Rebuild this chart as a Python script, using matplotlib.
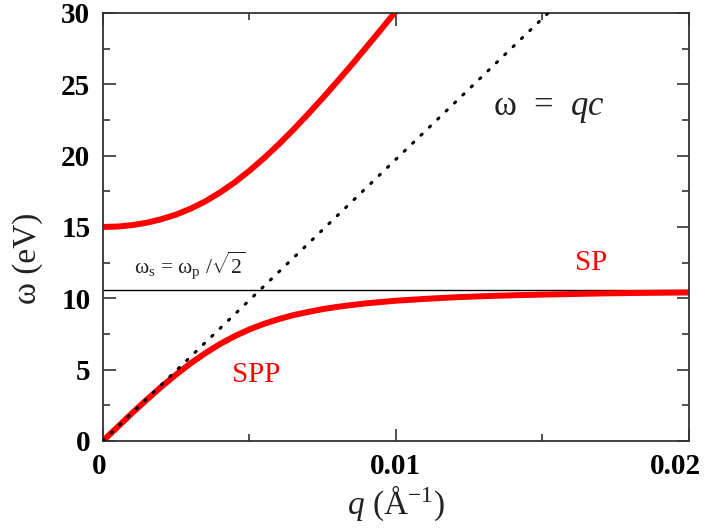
import matplotlib
matplotlib.use('Agg')
import matplotlib.pyplot as plt
import matplotlib.transforms as mtransforms
from matplotlib.ticker import MultipleLocator

plt.rcParams['font.family'] = ['Liberation Serif', 'DejaVu Serif']
plt.rcParams['mathtext.fontset'] = 'custom'
plt.rcParams['mathtext.rm'] = 'Liberation Serif'
plt.rcParams['mathtext.it'] = 'Liberation Serif:italic'

# SPP lower branch
q_lower = [0, 0.0005, 0.001, 0.0015, 0.002, 0.0025, 0.003, 0.0035, 0.004, 0.0045,
           0.005, 0.0055, 0.006, 0.0065, 0.007, 0.0075, 0.008, 0.0085, 0.009, 0.0095,
           0.01, 0.011, 0.012, 0.013, 0.014, 0.015, 0.016, 0.017, 0.018, 0.019, 0.02]
w_lower = [0, 0.98, 1.96, 2.90, 3.81, 4.66, 5.45, 6.16, 6.80, 7.35,
           7.82, 8.21, 8.54, 8.82, 9.04, 9.24, 9.40, 9.53, 9.65, 9.74,
           9.83, 9.96, 10.07, 10.15, 10.21, 10.26, 10.30, 10.34, 10.37, 10.39, 10.41]

# upper branch
q_upper = [0, 0.0005, 0.001, 0.0015, 0.002, 0.0025, 0.003, 0.0035, 0.004, 0.0045,
           0.005, 0.0055, 0.006, 0.0065, 0.007, 0.0075, 0.008, 0.0085, 0.009, 0.0095, 0.01]
w_upper = [15.0, 15.03, 15.13, 15.30, 15.55, 15.87, 16.29, 16.80, 17.42, 18.13,
           18.94, 19.83, 20.79, 21.82, 22.91, 24.03, 25.20, 26.39, 27.62, 28.86, 30.12]

# light line w = qc
q_light = [0, 0.0153]
w_light = [0, 30.2]

w_s = 10.61  # surface plasmon level

fig = plt.figure(figsize=(7.05, 5.30), dpi=100)
ax = fig.add_axes([0.146, 0.168, 0.831, 0.8075])

ax.axhline(w_s, color='black', lw=1.0, zorder=1)
ax.plot(q_light, w_light, color='black', lw=2.2, linestyle=(0, (0.5, 3.3)),
        dash_capstyle='round', zorder=3)
ax.plot(q_lower, w_lower, color='#ff0000', lw=4.3, solid_capstyle='butt', zorder=2)
ax.plot(q_upper, w_upper, color='#ff0000', lw=4.3, solid_capstyle='butt', zorder=2)

ax.set_xlim(0, 0.02)
ax.set_ylim(0, 30)
ax.xaxis.set_minor_locator(MultipleLocator(0.005))
ax.yaxis.set_major_locator(MultipleLocator(5))
ax.yaxis.set_minor_locator(MultipleLocator(2.5))
ax.set_xticks([0, 0.01, 0.02])
ax.set_xticklabels(['0', '0.01', '0.02'])

ax.tick_params(which='both', direction='in', top=True, right=True,
               color='#333333', width=1.2)
ax.tick_params(which='major', length=9, labelsize=21, pad=9)
ax.tick_params(which='minor', length=5)
for lbl in ax.get_xticklabels() + ax.get_yticklabels():
    lbl.set_fontweight('bold')
for s in ax.spines.values():
    s.set_color('#333333')
    s.set_linewidth(1.3)

# nudge the end labels like the original
xl = ax.get_xticklabels()
xl[0].set_transform(xl[0].get_transform() + mtransforms.ScaledTranslation(-4 / 100, 0, fig.dpi_scale_trans))
xl[-1].set_transform(xl[-1].get_transform() + mtransforms.ScaledTranslation(-13 / 100, 0, fig.dpi_scale_trans))

ax.text(0.00522, 4.6, 'SPP', color='#ff0000', fontsize=21, ha='center', va='center')
ax.text(0.01666, 12.5, 'SP', color='#ff0000', fontsize=21, ha='center', va='center')
ax.text(0.0133, 23.3, r'ω  =  $q$$c$', color='#222222', fontsize=25, ha='left', va='center')
ax.text(0.00105, 12.3, r'ω$_\mathrm{s}$ = ω$_\mathrm{p}$ /$\sqrt{2}$', color='#222222',
        fontsize=15.5, ha='left', va='center')

fig.text(28 / 705, 1 - 258 / 530, 'ω (eV)', rotation=90, fontsize=24,
         color='#222222', ha='center', va='center')
fig.text(396 / 705, 1 - 503 / 530, r'$q$ (Å$^{-1}$)', fontsize=24,
         color='#222222', ha='center', va='center')

fig.savefig('out.png', dpi=100)
